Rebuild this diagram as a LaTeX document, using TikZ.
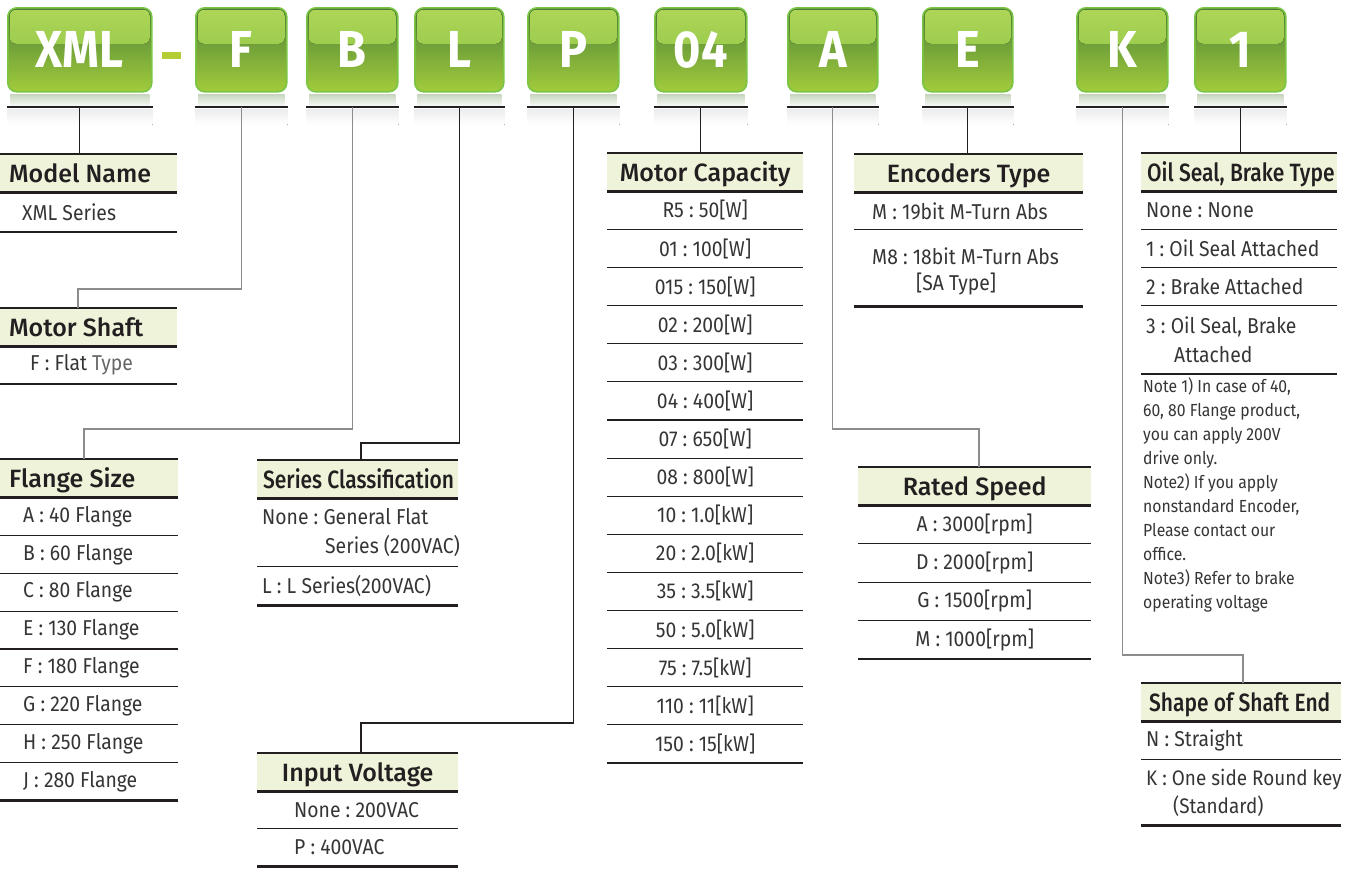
\documentclass[tikz,border=0pt]{standalone}
\usepackage{fontspec}
\usetikzlibrary{positioning}
\newfontfamily\dinfont[FakeStretch=0.9]{Fira Sans}
\newfontfamily\dinhead[FakeStretch=1.0]{Fira Sans Medium}
\newfontfamily\dinnarrow[FakeStretch=0.84]{Fira Sans Medium}

\definecolor{ink}{HTML}{231F20}
\definecolor{bodyink}{HTML}{363435}
\definecolor{hdfill}{HTML}{EEF3D9}
\definecolor{boxedge}{HTML}{7BC544}
\definecolor{glosstop}{HTML}{AED557}
\definecolor{glossbot}{HTML}{88C344}
\definecolor{boxmid}{HTML}{579640}
\definecolor{boxbot}{HTML}{A2CC3C}
\definecolor{dashgreen}{HTML}{B5CD33}
\definecolor{refl}{HTML}{C9D6C0}

% rules of one table: header top and bottom, last row bottom
\newcommand\tablerules[2]{%
  \draw[thickrule] (#1.north west) -- (#1.north east);
  \draw[thickrule] (#1.south west) -- (#1.south east);
  \draw[thickrule] (#1.west |- #2.south) -- (#1.east |- #2.south);}

\begin{document}
\begin{tikzpicture}[x=1pt, y=-1pt,
  codebox/.style={draw=boxedge, line width=1.6pt, rounded corners=9pt,
    top color=boxmid!85!black, middle color=boxmid, bottom color=boxbot,
    minimum height=84pt, inner sep=0pt, anchor=north west, text=white,
    font=\dinfont\bfseries\fontsize{52}{52}\selectfont,
    path picture={\fill[top color=glosstop, bottom color=glossbot, rounded corners=6pt]
      ([shift={(2pt,-2pt)}]path picture bounding box.north west) rectangle
      ([shift={(-2pt,-36pt)}]path picture bounding box.north east);}},
  tight/.style={execute at begin node={\frenchspacing\spaceskip=0pt\xspaceskip=0pt}},
  hd/.style={tight, fill=hdfill, text=ink, font=\dinhead\fontsize{25}{28}\selectfont,
    minimum height=38pt, inner sep=0pt, anchor=north west,
    text height=18pt, text depth=0pt},
  hdc/.style={hd, minimum width=#1, align=center},
  hdl/.style 2 args={hd, text width=#1, align=left, execute at begin node={\hspace*{#2}}},
  narrow/.style={font=\dinnarrow\fontsize{25}{28}\selectfont},
  cell/.style={tight, text=bodyink, font=\dinfont\fontsize{21.5}{29}\selectfont,
    minimum height=37.5pt, inner sep=0pt, align=left},
  lcell/.style={cell, anchor=north west},
  note/.style={tight, text=bodyink, font=\dinfont\fontsize{17.5}{24}\selectfont,
    inner sep=0pt, align=left, anchor=north west},
  thickrule/.style={draw=ink, line width=2.6pt},
  thinrule/.style={draw=ink, line width=1.1pt},
  link/.style={draw=ink, line width=1.1pt},
  linklight/.style={draw=black!45, line width=1.3pt}
]
\useasboundingbox (0,0) rectangle (1350,876);

% code boxes on top
\coordinate (rail) at (0,107);
\foreach \nm/\xa/\bw in {XML/7/144, F/195/91, B/306/91, L/414/89, P/527/91,
    04/654/92, A/787/90, E/922/90, K/1076/91, 1/1194/91} {
  \node[codebox, minimum width=\bw pt] (c\nm) at (\xa,7) {\nm};
  \fill[top color=refl, bottom color=white]
    ([shift={(3,2)}]c\nm.south west) rectangle ([shift={(-3,15)}]c\nm.south east);
  \fill[top color=black!7, bottom color=white]
    ([shift={(0,17)}]c\nm.south west) rectangle ([shift={(0,32)}]c\nm.south east);
  \draw[thickrule] (c\nm.west |- rail) -- (c\nm.east |- rail);
}
\node[fill=dashgreen, minimum width=19pt, minimum height=7pt, inner sep=0pt] (dash) at (171.5,55.5) {};

% Model Name
\node[hdl={177pt}{9pt}] (hModel) at (0,154) {Model Name};
\node[lcell, minimum height=39pt] (rModel) at ([xshift=22pt]hModel.south west) {XML Series};
\tablerules{hModel}{rModel}

% Motor Shaft
\node[hdl={177pt}{9pt}] (hShaft) at (0,308) {Motor Shaft};
\node[lcell, minimum height=37pt] (rShaft) at ([xshift=30pt]hShaft.south west) {F : Flat {\color{bodyink!75}Type}};
\tablerules{hShaft}{rShaft}

% Flange Size
\node[hdl={178pt}{9pt}] (hFlange) at (0,459) {Flange Size};
\path ([xshift=23pt]hFlange.south west) coordinate (rFlange0);
\foreach \t [count=\i, remember=\i as \j (initially 0)] in {A : 40 Flange, B : 60 Flange,
    C : 80 Flange, E : 130 Flange, F : 180 Flange, G : 220 Flange, H : 250 Flange, J : 280 Flange}
  \node[lcell] (rFlange\i) at (rFlange\j.south west) {\t};
\foreach \i in {1,...,7}
  \draw[thinrule] (hFlange.west |- rFlange\i.south) -- (hFlange.east |- rFlange\i.south);
\tablerules{hFlange}{rFlange8}

% Series Classification
\node[hdl={201pt}{6pt}, narrow] (hSeries) at (257,460) {Series~Classification};
\node[lcell, minimum height=68pt] (rSeries1) at ([xshift=5pt]hSeries.south west)
  {None : General Flat\\\hspace*{63pt}Series (200VAC)};
\node[lcell, minimum height=38pt] (rSeries2) at (rSeries1.south west) {L : L Series(200VAC)};
\draw[thinrule] (hSeries.west |- rSeries1.south) -- (hSeries.east |- rSeries1.south);
\tablerules{hSeries}{rSeries2}

% Input Voltage
\node[hdc=201pt] (hVolt) at (257,753) {Input Voltage};
\node[lcell, minimum height=37pt] (rVolt1) at ([xshift=37pt]hVolt.south west) {None : 200VAC};
\node[lcell, minimum height=37pt] (rVolt2) at (rVolt1.south west) {P : 400VAC};
\draw[thinrule] (hVolt.west |- rVolt1.south) -- (hVolt.east |- rVolt1.south);
\tablerules{hVolt}{rVolt2}

% Motor Capacity
\node[hdc=196pt] (hCap) at (607,153) {Motor Capacity};
\path (hCap.south) coordinate (rCap0);
\foreach \t [count=\i, remember=\i as \j (initially 0)] in {R5 : 50[W], 01 : 100[W], 015 : 150[W],
    02 : 200[W], 03 : 300[W], 04 : 400[W], 07 : 650[W], 08 : 800[W], 10 : 1.0[kW], 20 : 2.0[kW],
    35 : 3.5[kW], 50 : 5.0[kW], 75 : 7.5[kW], 110 : 11[kW], 150 : 15[kW]}
  \node[cell, minimum width=196pt, minimum height=37.7pt, align=center, below=0pt of rCap\j] (rCap\i) {\t};
\foreach \i in {1,...,14}
  \draw[thinrule] (hCap.west |- rCap\i.south) -- (hCap.east |- rCap\i.south);
\tablerules{hCap}{rCap15}

% Encoders Type
\node[hdc=229pt] (hEnc) at (854,154) {Encoders Type};
\node[lcell, minimum height=37pt] (rEnc1) at ([xshift=18pt]hEnc.south west) {M : 19bit M-Turn Abs};
\node[lcell, minimum height=70pt, font=\dinfont\fontsize{21.5}{26}\selectfont] (rEnc2)
  at ([yshift=-6pt]rEnc1.south west) {M8 : 18bit M-Turn Abs\\\hspace*{44pt}[SA Type]};
\draw[thinrule] (hEnc.west |- rEnc1.south) -- (hEnc.east |- rEnc1.south);
\tablerules{hEnc}{rEnc2}

% Rated Speed
\node[hdc=233pt] (hSpeed) at (858,467) {Rated Speed};
\path (hSpeed.south) coordinate (rSpeed0);
\foreach \t [count=\i, remember=\i as \j (initially 0)] in {A : 3000[rpm], D : 2000[rpm],
    G : 1500[rpm], M : 1000[rpm]}
  \node[cell, minimum width=233pt, minimum height=38pt, align=center, below=0pt of rSpeed\j] (rSpeed\i) {\t};
\foreach \i in {1,...,3}
  \draw[thinrule] (hSpeed.west |- rSpeed\i.south) -- (hSpeed.east |- rSpeed\i.south);
\tablerules{hSpeed}{rSpeed4}

% Oil Seal, Brake Type
\node[hdl={196pt}{6pt}, narrow] (hOil) at (1141,153) {Oil~Seal,~Brake~Type};
\node[lcell] (rOil1) at ([xshift=5pt]hOil.south west) {None : None};
\node[lcell] (rOil2) at (rOil1.south west) {1 : Oil Seal Attached};
\node[lcell] (rOil3) at (rOil2.south west) {2 : Brake Attached};
\node[lcell, minimum height=68.5pt] (rOil4) at (rOil3.south west) {3 : Oil Seal, Brake\\\hspace*{28pt}Attached};
\foreach \i in {1,2,3}
  \draw[thinrule] (hOil.west |- rOil\i.south) -- (hOil.east |- rOil\i.south);
\tablerules{hOil}{rOil4}
\node[note] (notes) at (1143,378) {Note 1) In case of 40,\\60, 80 Flange product,\\you can apply 200V\\drive only.\\Note2) If you apply\\nonstandard Encoder,\\Please contact our\\office.\\Note3) Refer to brake\\operating voltage};

% Shape of Shaft End
\node[hdl={200pt}{8pt}, narrow] (hShape) at (1141,683) {Shape~of~Shaft~End};
\node[lcell, minimum height=38pt] (rShape1) at ([xshift=5pt]hShape.south west) {N : Straight};
\node[lcell, minimum height=65pt, font=\dinfont\fontsize{21}{28}\selectfont] (rShape2)
  at (rShape1.south west) {K : One side Round key\\\hspace*{27pt}(Standard)};
\draw[thinrule] (hShape.west |- rShape1.south) -- (hShape.east |- rShape1.south);
\tablerules{hShape}{rShape2}

% connectors
\coordinate (bF) at (78,289);
\coordinate (bB) at (84,429);
\coordinate (bL) at (361,443);
\coordinate (bP) at (361,723);
\coordinate (bA) at (979,429);
\coordinate (bK) at (1243,655);
\draw[link] (cXML |- rail) -- (cXML |- hModel.north);
\draw[linklight] (cF |- rail) |- (bF) -- (bF |- hShaft.north);
\draw[linklight] (cB |- rail) |- (bB) -- (bB |- hFlange.north);
\draw[link] (cL |- rail) |- (bL) -- (bL |- hSeries.north);
\draw[link] (cP |- rail) |- (bP) -- (bP |- hVolt.north);
\draw[link] (c04 |- rail) -- (c04 |- hCap.north);
\draw[linklight] (cA |- rail) |- (bA) -- (bA |- hSpeed.north);
\draw[link] (cE |- rail) -- (cE |- hEnc.north);
\draw[linklight] (cK |- rail) |- (bK) -- (bK |- hShape.north);
\draw[link] (c1 |- rail) -- (c1 |- hOil.north);
\end{tikzpicture}
\end{document}
